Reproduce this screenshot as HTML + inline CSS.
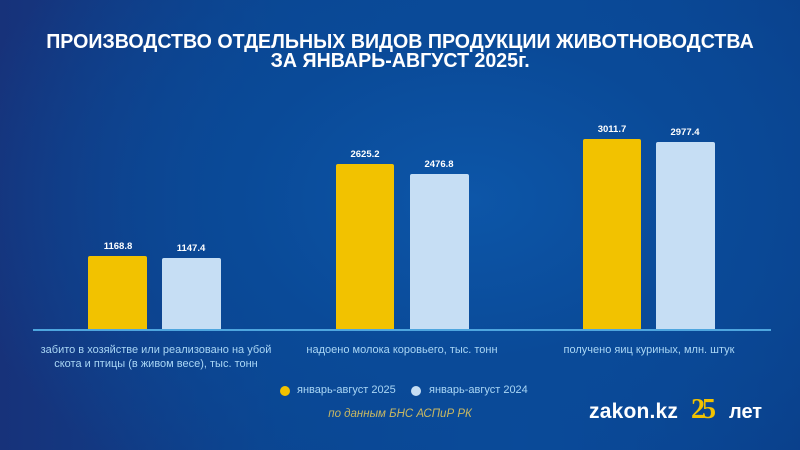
<!DOCTYPE html>
<html><head><meta charset="utf-8"><style>
html,body{margin:0;padding:0}
body{width:800px;height:450px;overflow:hidden;position:relative;font-family:"Liberation Sans",sans-serif;
background:radial-gradient(ellipse 520px 360px at 470px 200px,#0d56a8 0%,#0a4a98 45%,rgba(10,60,130,0) 100%),linear-gradient(90deg,#17327a 0%,#0b448f 35%,#0b4a9a 65%,#0a3f8a 100%);}
.t{position:absolute;left:0;width:800px;text-align:center;color:#fff;font-weight:bold;font-size:20px;line-height:21px;}
.t span{display:inline-block;transform:scaleX(0.98);white-space:nowrap}
.bar{position:absolute;border-radius:2px 2px 0 0}
.y{background:#f2c200}.b{background:#c6def4}
.v{position:absolute;color:#fff;font-weight:bold;font-size:9.5px;width:80px;text-align:center}
.c{position:absolute;color:#a9d6f5;font-size:11px;line-height:14px;text-align:center;width:260px}
.dot{position:absolute;width:10px;height:10px;border-radius:50%}
.lg{position:absolute;color:#a9d6f5;font-size:11px}
</style></head><body>
<div class="t" style="top:32px"><span>ПРОИЗВОДСТВО ОТДЕЛЬНЫХ ВИДОВ ПРОДУКЦИИ ЖИВОТНОВОДСТВА</span></div>
<div class="t" style="top:51px"><span>ЗА ЯНВАРЬ-АВГУСТ 2025г.</span></div>

<div style="position:absolute;left:33px;top:329px;width:738px;height:2px;background:#4ea6df"></div>

<div class="bar y" style="left:88px;top:256px;width:59px;height:73px"></div>
<div class="bar b" style="left:162px;top:258px;width:59px;height:71px"></div>
<div class="bar y" style="left:336px;top:164px;width:58px;height:165px"></div>
<div class="bar b" style="left:410px;top:174px;width:59px;height:155px"></div>
<div class="bar y" style="left:583px;top:139px;width:58px;height:190px"></div>
<div class="bar b" style="left:656px;top:142px;width:59px;height:187px"></div>

<div class="v" style="left:78px;top:241px">1168.8</div>
<div class="v" style="left:151px;top:243px">1147.4</div>
<div class="v" style="left:325px;top:149px">2625.2</div>
<div class="v" style="left:399px;top:159px">2476.8</div>
<div class="v" style="left:572px;top:124px">3011.7</div>
<div class="v" style="left:645px;top:127px">2977.4</div>

<div class="c" style="left:26px;top:343px">забито в хозяйстве или реализовано на убой<br>скота и птицы (в живом весе), тыс. тонн</div>
<div class="c" style="left:272px;top:343px">надоено молока коровьего, тыс. тонн</div>
<div class="c" style="left:519px;top:343px">получено яиц куриных, млн. штук</div>

<div class="dot" style="left:280px;top:386px;background:#f2c200"></div>
<div class="lg" style="left:297px;top:384px">январь-август 2025</div>
<div class="dot" style="left:411px;top:386px;background:#c6def4"></div>
<div class="lg" style="left:429px;top:384px">январь-август 2024</div>
<div style="position:absolute;left:0;width:800px;top:408px;text-align:center;color:#c9b862;font-size:11.5px;font-style:italic">по данным БНС АСПиР РК</div>

<div style="position:absolute;left:589px;top:400px;color:#fff;font-size:21px;font-weight:bold;letter-spacing:0.2px">zakon.kz</div>
<div style="position:absolute;left:691px;top:394px;color:#f2c200;font-size:28px;font-weight:bold;font-family:'Liberation Serif',serif;letter-spacing:-3px">25</div>
<div style="position:absolute;left:729px;top:401px;color:#fff;font-size:20px;font-weight:bold">лет</div>
</body></html>
